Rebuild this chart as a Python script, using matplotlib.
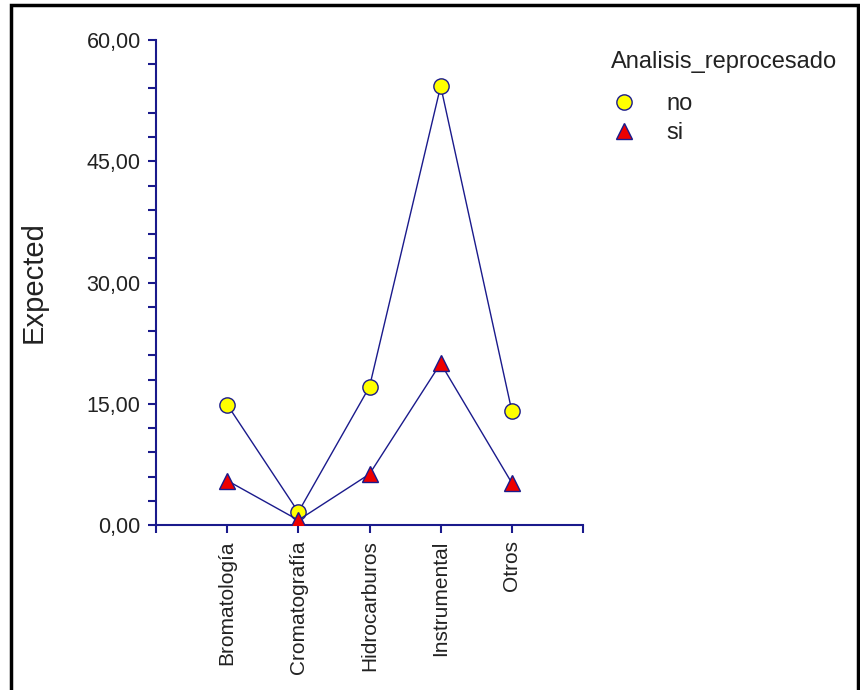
import matplotlib
matplotlib.use("Agg")
import matplotlib.pyplot as plt
from matplotlib.patches import Rectangle
from matplotlib.ticker import MultipleLocator, FixedLocator

plt.rcParams['font.family'] = ['Liberation Sans', 'DejaVu Sans']

categories = ['Bromatología', 'Cromatografía', 'Hidrocarburos', 'Instrumental', 'Otros']
expected_no = [14.9, 1.6, 17.1, 54.3, 14.1]
expected_si = [5.5, 0.6, 6.3, 20.0, 5.2]
yticks = [0, 15, 30, 45, 60]
ytick_labels = ['0,00', '15,00', '30,00', '45,00', '60,00']

navy = '#1a1a8c'
txt = '#222222'

fig = plt.figure(figsize=(8.6, 6.9), dpi=100)
W, H = 860, 690
ax = fig.add_axes([156 / W, (H - 525) / H, (583 - 156) / W, (525 - 40) / H])

x = list(range(1, len(categories) + 1))
ax.plot(x, expected_no, color=navy, lw=1, marker='o', ms=11,
        mfc='#ffff00', mec=navy, mew=1, label='no', zorder=3)
ax.plot(x, expected_si, color=navy, lw=1, marker='^', ms=11,
        mfc='#ee0000', mec=navy, mew=1, label='si', zorder=3)

ax.set_xlim(0, 6)
ax.set_ylim(0, 60)
ax.xaxis.set_major_locator(FixedLocator([0, 1, 2, 3, 4, 5, 6]))
ax.set_xticklabels([''] + categories + [''], rotation=90, fontsize=15)
ax.set_yticks(yticks)
ax.set_yticklabels(ytick_labels, fontsize=15.5)
ax.yaxis.set_minor_locator(MultipleLocator(3))

for side in ['top', 'right']:
    ax.spines[side].set_visible(False)
for side in ['left', 'bottom']:
    ax.spines[side].set_color(navy)
    ax.spines[side].set_linewidth(1.5)
ax.tick_params(axis='both', which='both', color=navy, width=1.5, direction='out')
ax.tick_params(axis='y', which='both', length=6, pad=5, labelcolor=txt)
ax.tick_params(axis='x', length=6, pad=5, labelcolor=txt)

ax.set_ylabel('Expected', fontsize=21, color=txt, labelpad=28)

fig.text(611 / W, (H - 62) / H, 'Analisis_reprocesado', fontsize=17,
         color=txt, va='center', ha='left')
handles = [plt.Line2D([], [], ls='none', marker='o', ms=11, mfc='#ffff00', mec=navy),
           plt.Line2D([], [], ls='none', marker='^', ms=11, mfc='#ee0000', mec=navy)]
fig.legend(handles, ['no', 'si'], loc='upper left',
           bbox_to_anchor=(584 / W, (H - 72) / H),
           frameon=False, fontsize=17, handletextpad=1.0, handlelength=1.6,
           labelspacing=0.3, labelcolor=txt)

fig.patches.append(Rectangle((11 / W, -0.01), (858 - 11) / W, (H - 5) / H + 0.01,
                             transform=fig.transFigure, fill=False,
                             edgecolor='black', lw=2.5))

fig.savefig('out.png', dpi=100)
